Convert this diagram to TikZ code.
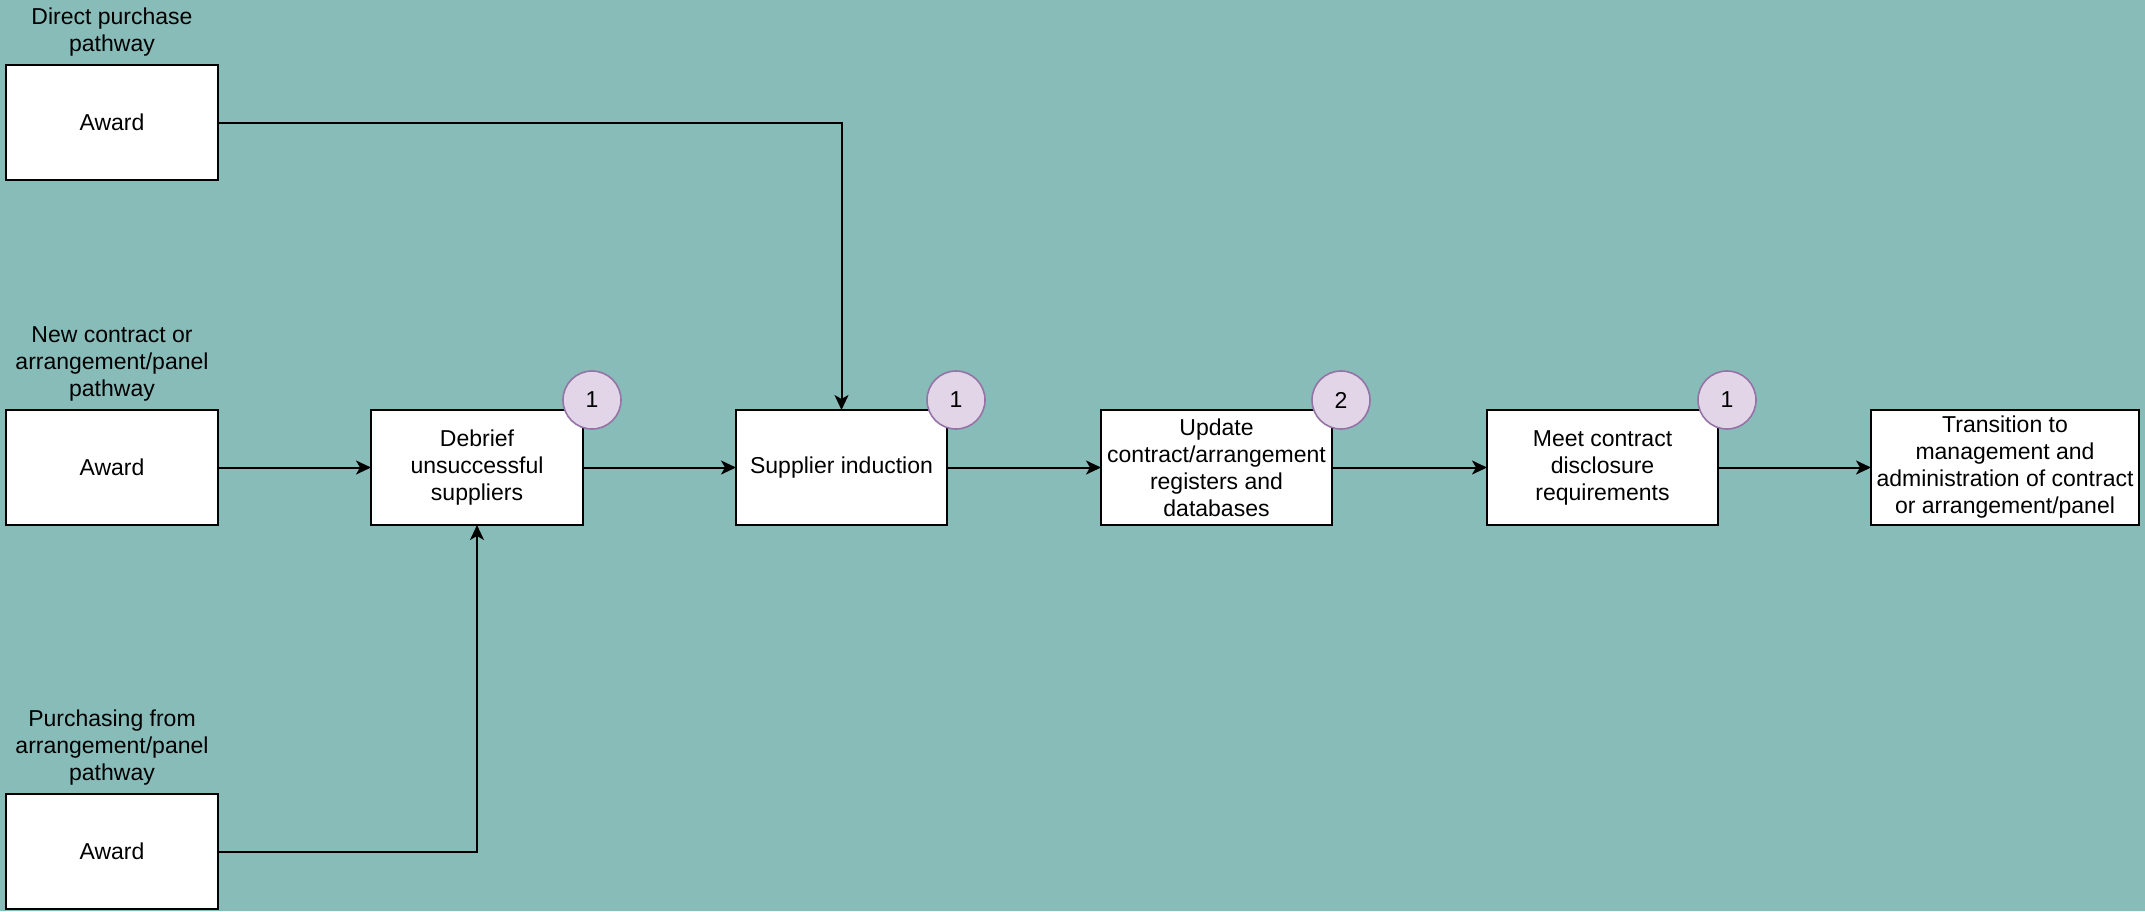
\documentclass[tikz,border=0pt]{standalone}
\usepackage{fontspec}
\setmainfont{Liberation Sans}
\usepackage{xcolor}
\usetikzlibrary{arrows.meta,positioning}

\definecolor{bgteal}{HTML}{88BCB9}
\definecolor{badgefill}{HTML}{E1D5E7}
\definecolor{badgedraw}{HTML}{9673A6}

\begin{document}
\begin{tikzpicture}[
    font=\fontsize{11.5}{13.5}\selectfont,
    node distance=76.5pt,
    block/.style={draw, fill=white, line width=1pt, outer sep=0pt, minimum height=57.5pt, align=center, inner sep=1pt},
    award/.style={block, minimum width=106pt},
    badge/.style={circle, draw=badgedraw, fill=badgefill, line width=0.8pt, minimum size=29pt, inner sep=0pt},
    pathlbl/.style={align=center, inner sep=2pt},
    arr/.style={-{Stealth[length=7.5pt, width=7pt, inset=2pt]}, line width=1pt}
  ]
    \path[fill=bgteal, use as bounding box] (0,0) rectangle (1072.5pt,-455.5pt);

    % the three pathways
    \node[award] (a2) at (56pt,-233.75pt) {Award};
    \node[award, above=115pt of a2] (a1) {Award};
    \node[award, below=134.5pt of a2] (a3) {Award};
    \node[pathlbl, above=2pt of a1] (l1) {Direct purchase\\pathway};
    \node[pathlbl, above=2pt of a2] (l2) {New contract or\\arrangement/panel\\pathway};
    \node[pathlbl, above=2pt of a3] (l3) {Purchasing from\\arrangement/panel\\pathway};

    % main chain
    \node[block, minimum width=106pt, right=of a2] (deb) {Debrief\\unsuccessful\\suppliers};
    \node[block, minimum width=105.5pt, right=of deb] (sup) {Supplier induction};
    \node[block, minimum width=115.5pt, right=77pt of sup] (upd) {Update\\contract/arrangement\\registers and\\databases};
    \node[block, minimum width=115.5pt, right=77.5pt of upd] (meet) {Meet contract\\disclosure\\requirements};
    \node[block, minimum width=134pt, right=of meet] (trans) {Transition to\\management and\\administration of contract\\or arrangement/panel};

    \node[badge] (n1) at ([shift={(4.5pt,5pt)}]deb.north east) {1};
    \node[badge] (n2) at ([shift={(4.5pt,5pt)}]sup.north east) {1};
    \node[badge] (n3) at ([shift={(4.5pt,5pt)}]upd.north east) {2};
    \node[badge] (n4) at ([shift={(4.5pt,5pt)}]meet.north east) {1};

    \draw[arr] (a1) -| (sup);
    \draw[arr] (a2) -- (deb);
    \draw[arr] (a3) -| (deb);
    \draw[arr] (deb) -- (sup);
    \draw[arr] (sup) -- (upd);
    \draw[arr] (upd) -- (meet);
    \draw[arr] (meet) -- (trans);
\end{tikzpicture}
\end{document}
